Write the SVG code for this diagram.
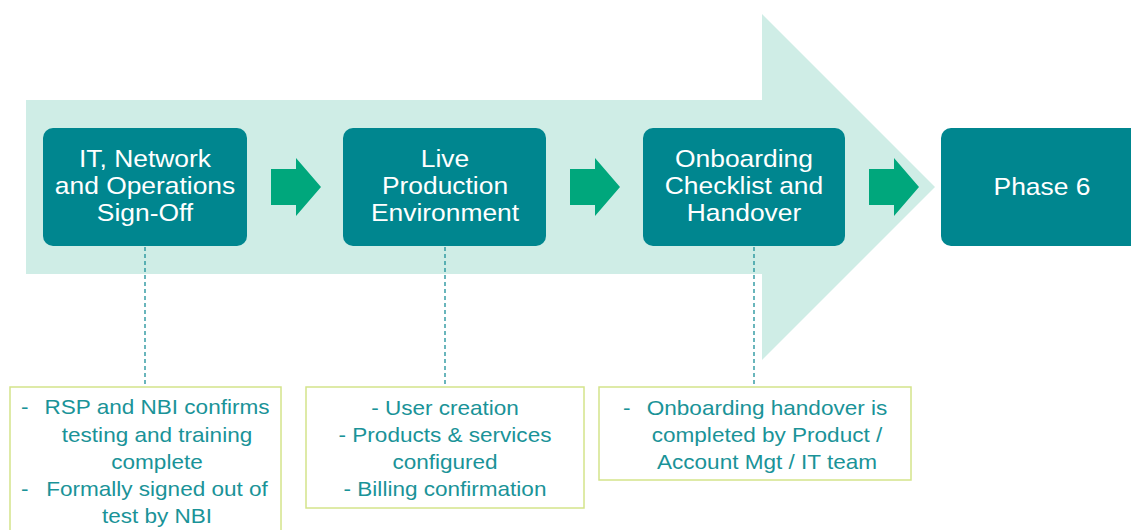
<svg xmlns="http://www.w3.org/2000/svg" width="1131" height="530" viewBox="0 0 1131 530">
<style>
.node{fill:#00868F}
.nt{font-family:"Liberation Sans",Arial,sans-serif;font-size:24px;fill:#FFFFFF;text-anchor:middle}
.step{fill:#00A77C}
.dash{stroke:#1A8F98;stroke-width:1.3;stroke-dasharray:4,3;fill:none}
.note{fill:#FFFFFF;stroke:#D4E48A;stroke-width:1.5}
.bt{font-family:"Liberation Sans",Arial,sans-serif;font-size:20.5px;fill:#1A9398}
.c{text-anchor:middle}
</style>
<rect width="1131" height="530" fill="#FFFFFF"/>
<polygon id="backbone" points="26,100 762,100 762,14 935,187 762,360 762,274 26,274" fill="#CFEDE6"/>
<g id="connectors">
<polygon class="step" points="271,169 296,169 296,158 321,187 296,216 296,205 271,205"/>
<polygon class="step" points="570,169 595,169 595,158 620,187 595,216 595,205 570,205"/>
<polygon class="step" points="869,169 894,169 894,158 919,187 894,216 894,205 869,205"/>
<line class="dash" x1="145" y1="247" x2="145" y2="386"/>
<line class="dash" x1="445" y1="247" x2="445" y2="386"/>
<line class="dash" x1="754" y1="247" x2="754" y2="386"/>
</g>
<g id="node1">
<rect class="node" x="43" y="128" width="204" height="118" rx="10"/>
<text class="nt" transform="translate(145,167) scale(1.1,1)">IT, Network</text>
<text class="nt" transform="translate(145,194) scale(1.1,1)">and Operations</text>
<text class="nt" transform="translate(145,221) scale(1.1,1)">Sign-Off</text>
</g>
<g id="node2">
<rect class="node" x="343" y="128" width="203" height="118" rx="10"/>
<text class="nt" transform="translate(445,167) scale(1.1,1)">Live</text>
<text class="nt" transform="translate(445,194) scale(1.1,1)">Production</text>
<text class="nt" transform="translate(445,221) scale(1.1,1)">Environment</text>
</g>
<g id="node3">
<rect class="node" x="643" y="128" width="202" height="118" rx="10"/>
<text class="nt" transform="translate(744,167) scale(1.1,1)">Onboarding</text>
<text class="nt" transform="translate(744,194) scale(1.1,1)">Checklist and</text>
<text class="nt" transform="translate(744,221) scale(1.1,1)">Handover</text>
</g>
<g id="node4">
<rect class="node" x="941" y="128" width="210" height="118" rx="10"/>
<text class="nt" transform="translate(1042,195) scale(1.1,1)">Phase 6</text>
</g>
<g id="note1">
<rect class="note" x="10" y="387" width="271" height="160"/>
<text class="bt" transform="translate(21,414) scale(1.1,1)">-</text>
<text class="bt c" transform="translate(157,414) scale(1.1,1)">RSP and NBI confirms</text>
<text class="bt c" transform="translate(157,442) scale(1.1,1)">testing and training</text>
<text class="bt c" transform="translate(157,469) scale(1.1,1)">complete</text>
<text class="bt" transform="translate(21,496) scale(1.1,1)">-</text>
<text class="bt c" transform="translate(157,496) scale(1.1,1)">Formally signed out of</text>
<text class="bt c" transform="translate(157,523) scale(1.1,1)">test by NBI</text>
</g>
<g id="note2">
<rect class="note" x="306" y="387" width="278" height="121"/>
<text class="bt c" transform="translate(445,415) scale(1.1,1)">- User creation</text>
<text class="bt c" transform="translate(445,442) scale(1.1,1)">- Products &amp; services</text>
<text class="bt c" transform="translate(445,469) scale(1.1,1)">configured</text>
<text class="bt c" transform="translate(445,496) scale(1.1,1)">- Billing confirmation</text>
</g>
<g id="note3">
<rect class="note" x="599" y="387" width="312" height="93"/>
<text class="bt" transform="translate(623,415) scale(1.1,1)">-</text>
<text class="bt c" transform="translate(767,415) scale(1.1,1)">Onboarding handover is</text>
<text class="bt c" transform="translate(767,442) scale(1.1,1)">completed by Product /</text>
<text class="bt c" transform="translate(767,469) scale(1.1,1)">Account Mgt / IT team</text>
</g>
</svg>
